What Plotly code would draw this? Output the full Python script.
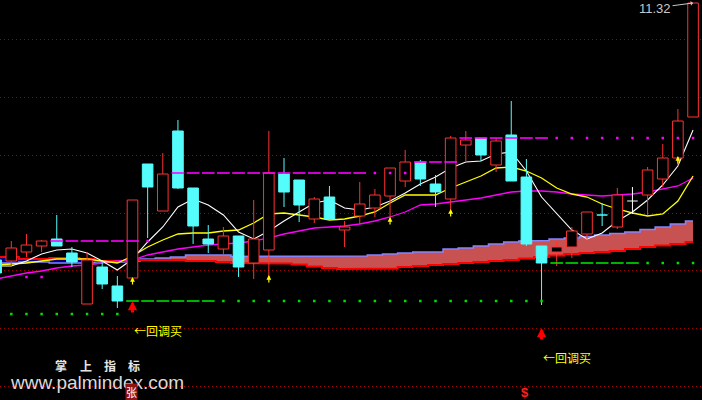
import plotly.graph_objects as go

# ---------------- data ----------------
bar_idx = list(range(-1, 46))

opens = [8.75, 8.74, 8.83, 8.89, 8.96, 8.82, 8.31, 8.68, 8.49, 8.57,
         9.71, 9.24, 10.04, 9.47, 8.96, 8.86, 8.99, 8.72, 8.85, 9.61,
         9.55, 9.16, 9.38, 9.05, 9.19, 9.27, 9.39, 9.54, 9.73, 9.51,
         9.36, 9.90, 9.97, 9.70, 10.00, 9.58, 8.89, 8.83, 8.88, 9.01,
         9.20, 9.08, 9.34, 9.40, 9.56, 9.77, 10.18]
highs = [8.75, 8.94, 9.01, 8.95, 9.20, 8.88, 8.83, 8.74, 8.59, 9.35,
         9.71, 9.82, 10.15, 9.47, 9.10, 9.08, 8.99, 9.35, 10.04, 9.77,
         9.55, 9.38, 9.49, 9.14, 9.53, 9.46, 9.67, 9.85, 9.75, 9.60,
         9.99, 10.04, 9.97, 9.97, 10.34, 9.76, 8.89, 8.93, 9.08, 9.23,
         9.32, 9.47, 9.48, 9.68, 9.91, 10.26, 11.32]
lows = [8.62, 8.68, 8.78, 8.83, 8.89, 8.68, 8.31, 8.46, 8.27, 8.57,
        8.97, 9.24, 9.46, 8.91, 8.82, 8.81, 8.58, 8.56, 8.58, 9.28,
        9.13, 9.12, 9.16, 8.88, 9.11, 9.18, 9.17, 9.48, 9.49, 9.28,
        9.25, 9.73, 9.74, 9.63, 9.54, 8.89, 8.30, 8.69, 8.77, 8.96,
        9.09, 9.06, 9.21, 9.20, 9.48, 9.69, 10.18]
closes = [8.62, 8.87, 8.90, 8.94, 8.89, 8.73, 8.75, 8.51, 8.34, 9.35,
          9.48, 9.61, 9.47, 9.09, 8.91, 8.99, 8.68, 8.96, 9.62, 9.43,
          9.30, 9.36, 9.16, 9.08, 9.31, 9.40, 9.67, 9.73, 9.56, 9.43,
          9.97, 9.95, 9.80, 9.94, 9.54, 8.91, 8.72, 8.88, 9.04, 9.23,
          9.195, 9.40, 9.34, 9.65, 9.77, 10.14, 11.32]

ma_white = [8.69, 8.69, 8.74, 8.81, 8.85, 8.86, 8.82, 8.74, 8.65, 8.76,
            8.93, 9.08, 9.28, 9.36, 9.30, 9.20, 9.03, 8.96, 9.04, 9.14,
            9.23, 9.32, 9.35, 9.27, 9.25, 9.28, 9.34, 9.42, 9.51, 9.58,
            9.67, 9.73, 9.74, 9.81, 9.83, 9.64, 9.38, 9.22, 9.05, 8.96,
            9.02, 9.14, 9.23, 9.35, 9.50, 9.69, 10.05]
ma_yellow = [8.70, 8.71, 8.72, 8.74, 8.76, 8.76, 8.76, 8.74, 8.72, 8.79,
             8.88, 8.95, 9.01, 9.02, 9.02, 9.04, 9.05, 9.12, 9.21, 9.22,
             9.20, 9.18, 9.15, 9.16, 9.19, 9.23, 9.32, 9.40, 9.40, 9.40,
             9.47, 9.53, 9.59, 9.67, 9.68, 9.64, 9.57, 9.47, 9.41, 9.38,
             9.31, 9.26, 9.22, 9.19, 9.21, 9.34, 9.59]
ma_magenta = [8.56, 8.59, 8.62, 8.64, 8.67, 8.69, 8.70, 8.72, 8.74, 8.75,
              8.80, 8.83, 8.86, 8.88, 8.90, 8.91, 8.92, 8.94, 8.97, 9.01,
              9.04, 9.07, 9.08, 9.09, 9.11, 9.14, 9.18, 9.23, 9.30, 9.31,
              9.33, 9.35, 9.37, 9.40, 9.43, 9.44, 9.44, 9.43, 9.41, 9.40,
              9.39, 9.40, 9.41, 9.43, 9.46, 9.49, 9.57]

band_upper = [8.72, 8.72, 8.73, 8.73, 8.72, 8.72, 8.72, 8.73, 8.73, 8.74,
              8.76, 8.77, 8.78, 8.80, 8.80, 8.80, 8.785, 8.785, 8.785, 8.785,
              8.785, 8.785, 8.785, 8.785, 8.79, 8.80, 8.81, 8.82, 8.83, 8.83,
              8.86, 8.87, 8.89, 8.91, 8.93, 8.94, 8.945, 8.96, 8.97, 8.985,
              9.00, 9.015, 9.03, 9.055, 9.08, 9.11, 9.14]
band_lower = [8.78, 8.78, 8.76, 8.76, 8.77, 8.77, 8.76, 8.74, 8.74, 8.75,
              8.75, 8.75, 8.75, 8.74, 8.74, 8.73, 8.72, 8.72, 8.72, 8.715,
              8.705, 8.685, 8.67, 8.66, 8.665, 8.665, 8.665, 8.68, 8.69, 8.70,
              8.71, 8.72, 8.73, 8.74, 8.75, 8.765, 8.78, 8.795, 8.81, 8.82,
              8.83, 8.84, 8.86, 8.88, 8.895, 8.91, 8.93]

# resistance / support levels: (first bar, last bar, price)
mag_dash_segments = [(3, 8, 8.94), (11, 23, 9.62), (27, 29, 9.73), (30, 35, 9.97)]
mag_dot_segments = [(1, 2, 8.58), (9, 9, 8.94), (24, 26, 9.62), (36, 45, 9.97)]
grn_dash_segments = [(8, 13, 8.34), (36, 41, 8.72)]
grn_dot_segments = [(0, 7, 8.21), (14, 35, 8.34), (42, 45, 8.72)]

small_sig_idx = [8, 17, 25, 29, 44]
small_sig_price = [8.58, 8.60, 9.18, 9.26, 9.79]
buy_idx = [8, 35]
buy_label = "←回调买"

grid_levels = [10.96, 10.38, 9.80, 9.22, 8.65, 8.07, 7.49]

wm_title = ["掌", "上", "指", "标"]
wm_url = "www.palmindex.com"
corner_mark = "张"
corner_idx = 8
sell_mark = "$"
sell_idx = 34

# ---------------- styling ----------------
RED = "#FF3232"
CYAN = "#54FCFC"
SALMON = "#C85252"
NAVY = "#000080"
LAV = "#8484FF"
LINE_RED = "#FF0000"
MAG = "#FF00FF"
GRN = "#00E000"
HALF = 0.35

fig = go.Figure()

# ---- band (cloud) ----
last = len(bar_idx) - 1


def edges(k):
    i = bar_idx[k]
    return i - 0.5, (i + 0.5 if k < last else i)


runs = []
for k in range(len(bar_idx)):
    s = band_upper[k] >= band_lower[k]
    if runs and runs[-1][0] == s:
        runs[-1][1].append(k)
    else:
        runs.append([s, [k]])
for s, ks in runs:
    tx, ty, bx, by = [], [], [], []
    for k in ks:
        x0, x1 = edges(k)
        hi = max(band_upper[k], band_lower[k])
        lo = min(band_upper[k], band_lower[k])
        tx += [x0, x1]
        ty += [hi, hi]
        bx += [x0, x1]
        by += [lo, lo]
    xs = tx + bx[::-1] + [tx[0]]
    ys = ty + by[::-1] + [ty[0]]
    fig.add_trace(go.Scatter(x=xs, y=ys, mode="lines", fill="toself",
                             fillcolor=SALMON if s else NAVY,
                             line=dict(width=0, color="rgba(0,0,0,0)"),
                             hoverinfo="skip"))


def step_line(vals):
    xs, ys = [], []
    for k, v in enumerate(vals):
        x0, x1 = edges(k)
        xs += [x0, x1]
        ys += [v, v]
    return xs, ys


sx, sy = step_line(band_upper)
fig.add_trace(go.Scatter(x=sx, y=sy, mode="lines", line=dict(color=LAV, width=1.6), hoverinfo="skip"))
sx, sy = step_line(band_lower)
fig.add_trace(go.Scatter(x=sx, y=sy, mode="lines", line=dict(color=LINE_RED, width=2), hoverinfo="skip"))

# ---- moving averages ----
for vals, col, w in [(ma_magenta, MAG, 1.3), (ma_yellow, "#FFFF00", 1.3), (ma_white, "#FFFFFF", 1.1)]:
    fig.add_trace(go.Scatter(x=bar_idx, y=vals, mode="lines", line=dict(color=col, width=w), hoverinfo="skip"))

# ---- candles ----
groups = {"up": ([], [], [], []), "dn": ([], [], [], []), "flat": ([], [], [], [])}
for i, o, h, l, c in zip(bar_idx, opens, highs, lows, closes):
    key = "up" if c > o else ("dn" if c < o else "flat")
    wx, wy, bxs, bys = groups[key]
    wx += [i, i, None]
    wy += [h, l, None]
    if key == "flat":
        bxs += [i - HALF, i + HALF, None]
        bys += [o, o, None]
    else:
        bxs += [i - HALF, i + HALF, i + HALF, i - HALF, i - HALF, None]
        bys += [o, o, c, c, o, None]

for key, col in [("up", RED), ("dn", CYAN), ("flat", "#FFFFFF")]:
    wx, wy, bxs, bys = groups[key]
    fig.add_trace(go.Scatter(x=wx, y=wy, mode="lines", line=dict(color=col, width=1), hoverinfo="skip"))
for key, col, fill in [("up", RED, "#000000"), ("dn", CYAN, CYAN)]:
    wx, wy, bxs, bys = groups[key]
    fig.add_trace(go.Scatter(x=bxs, y=bys, mode="lines", fill="toself", fillcolor=fill,
                             line=dict(color=col, width=1), hoverinfo="skip"))
wx, wy, bxs, bys = groups["flat"]
fig.add_trace(go.Scatter(x=bxs, y=bys, mode="lines", line=dict(color="#FFFFFF", width=1), hoverinfo="skip"))

# ---- level lines (dashed per bar, dotted per bar) ----
for segs, col in [(mag_dash_segments, MAG), (grn_dash_segments, GRN)]:
    xs, ys = [], []
    for a, b, v in segs:
        for i in range(a, b + 1):
            xs += [i - 0.42, i + 0.42, None]
            ys += [v, v, None]
    fig.add_trace(go.Scatter(x=xs, y=ys, mode="lines", line=dict(color=col, width=1.6), hoverinfo="skip"))
for segs, col in [(mag_dot_segments, MAG), (grn_dot_segments, GRN)]:
    xs, ys = [], []
    for a, b, v in segs:
        for i in range(a, b + 1):
            xs.append(i)
            ys.append(v)
    fig.add_trace(go.Scatter(x=xs, y=ys, mode="markers",
                             marker=dict(symbol="square", size=2.5, color=col, line=dict(width=0)),
                             hoverinfo="skip"))

annotations = []
# small yellow arrows
for i, p in zip(small_sig_idx, small_sig_price):
    annotations.append(dict(x=i, y=p, xref="x", yref="y", text="", showarrow=True,
                            ax=0, ay=9, arrowhead=2, arrowsize=0.8, arrowwidth=1.2,
                            arrowcolor="#FFFF00"))
# buy arrows and labels
for i in buy_idx:
    k = bar_idx.index(i)
    annotations.append(dict(x=i, y=lows[k], xref="x", yref="y", text="", showarrow=True,
                            ax=0, ay=13, yshift=-23, arrowhead=2, arrowsize=0.62,
                            arrowwidth=3, arrowcolor="#FF0000"))
    annotations.append(dict(x=i, y=lows[k], xref="x", yref="y", text=buy_label, showarrow=False,
                            xanchor="left", yanchor="middle", yshift=-52, xshift=-1,
                            font=dict(family="Noto Sans CJK SC", size=12, color="#FFFF00")))
# max price label
kmax = highs.index(max(highs))
annotations.append(dict(x=bar_idx[kmax], y=highs[kmax], xref="x", yref="y",
                        text=f"{max(highs):.2f}", showarrow=True, ax=-38, ay=5,
                        arrowhead=1, arrowsize=0.8, arrowwidth=1, arrowcolor="#C8C8C8",
                        font=dict(family="Liberation Sans", size=13, color="#C8C8C8")))
# watermark
for n, ch in enumerate(wm_title):
    annotations.append(dict(x=(61.5 + 24 * n) / 702, y=1 - 365.5 / 400, xref="paper", yref="paper",
                            text=f"<b>{ch}</b>", showarrow=False, xanchor="center", yanchor="middle",
                            font=dict(family="Noto Sans CJK SC", size=12, color="#E6E6E6")))
annotations.append(dict(x=97 / 702, y=1 - 382 / 400, xref="paper", yref="paper", text=wm_url,
                        showarrow=False, xanchor="center", yanchor="middle",
                        font=dict(family="Liberation Sans", size=19, color="#DADADA")))
annotations.append(dict(x=corner_idx, y=1 - 392 / 400, xref="x", yref="paper", text=corner_mark,
                        showarrow=False, xanchor="center", yanchor="middle", xshift=-1,
                        bgcolor="#8E1414", borderpad=0,
                        font=dict(family="Noto Sans CJK SC", size=11, color="#FFFFFF")))
annotations.append(dict(x=sell_idx, y=1 - 392 / 400, xref="x", yref="paper", text=f"<b>{sell_mark}</b>",
                        showarrow=False, xanchor="center", yanchor="middle", xshift=-1,
                        font=dict(family="Liberation Sans", size=13, color="#FF2020")))

x_lo = -11.3 / 15.15
x_hi = (702 - 11.3) / 15.15
fig.update_layout(
    width=702, height=400, margin=dict(l=0, r=0, t=0, b=0),
    paper_bgcolor="#000000", plot_bgcolor="#000000", showlegend=False,
    xaxis=dict(range=[x_lo, x_hi], visible=False, fixedrange=True),
    yaxis=dict(range=[7.35, 11.35], tickvals=grid_levels, showticklabels=False, ticks="",
               showgrid=True, gridcolor="#A00000", griddash="1px,3px", gridwidth=1,
               zeroline=False, showline=False, fixedrange=True),
    annotations=annotations,
)

fig.write_html("out.html", config={"displayModeBar": False, "staticPlot": True},
               post_script="document.body.style.margin='0px';document.body.style.background='#000';")
